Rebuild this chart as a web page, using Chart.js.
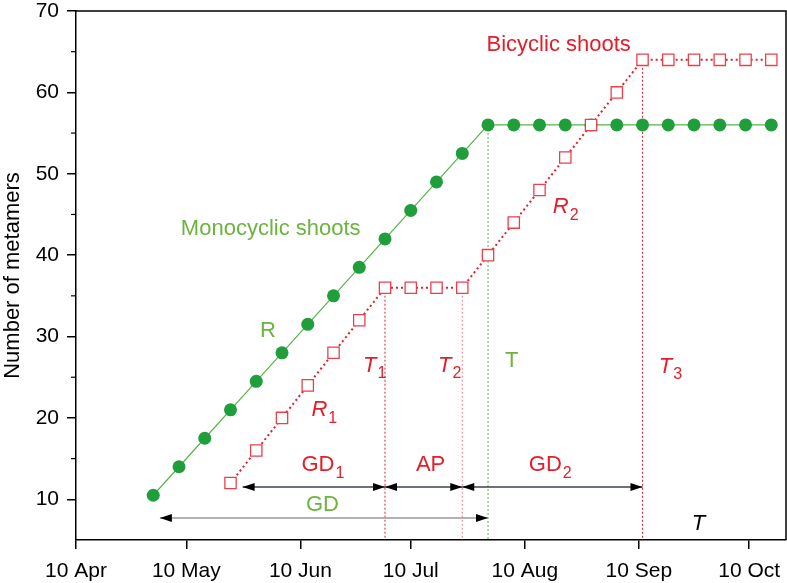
<!DOCTYPE html>
<html>
<head>
<meta charset="utf-8">
<script src="https://cdn.jsdelivr.net/npm/chart.js@4.4.1/dist/chart.umd.min.js"></script>
<style>
  html, body { margin: 0; padding: 0; background: #fff; }
</style>
</head>
<body>
<canvas id="metamer-chart" width="787" height="583"></canvas>
<script>
// x values are days counted from 10 Apr
const tickDays = [0, 30, 61, 91, 122, 153, 183];
const tickLabels = ['10 Apr', '10 May', '10 Jun', '10 Jul', '10 Aug', '10 Sep', '10 Oct'];
const yTicks = [10, 20, 30, 40, 50, 60, 70];

const monoDays = [21, 28, 35, 42, 49, 56, 63, 70, 77, 84, 91, 98, 105, 112,
                  119, 126, 133, 140, 147, 154, 161, 168, 175, 182, 189];
const monoValues = [10.5, 14, 17.5, 21, 24.5, 28, 31.5, 35, 38.5, 42, 45.5, 49, 52.5, 56,
                    56, 56, 56, 56, 56, 56, 56, 56, 56, 56, 56];

const biDays = [42, 49, 56, 63, 70, 77, 84, 91, 98, 105, 112, 119, 126, 133, 140,
                147, 154, 161, 168, 175, 182, 189];
const biValues = [12, 16, 20, 24, 28, 32, 36, 36, 36, 36, 40, 44, 48, 52, 56,
                  60, 64, 64, 64, 64, 64, 64];

// T1, T2, T, T3 and the value each dotted line drops from
const markDays = [84, 105, 112, 154];
const markTops = [36, 36, 56, 64];

// arrow spans [from, to, level]
const gd1Span = [45.3, 84, 11.5];
const apSpan = [84, 105, 11.5];
const gd2Span = [105, 154, 11.5];
const gdSpan = [22.8, 112, 7.7];

const RED = '#e31e2a';
const PINK = '#f07f88';
const GREEN = '#1f9e3b';
const LINE_GREEN = '#55b548';
const TEXT_GREEN = '#6db33f';
const FONT = '"Liberation Sans", Arial, Helvetica, sans-serif';

const notes = [
    { text: 'Monocyclic shoots', x: 28.5, y: 43.25, color: TEXT_GREEN },
    { text: 'Bicyclic shoots', x: 111.6, y: 65.85, color: RED },
    { text: 'R', x: 50, y: 30.65, color: TEXT_GREEN },
    { text: 'R', sub: '1', x: 64, y: 20.95, color: RED, italic: true },
    { text: 'T', sub: '1', x: 78, y: 26.44, color: RED, italic: true },
    { text: 'T', sub: '2', x: 98.4, y: 26.4, color: RED, italic: true },
    { text: 'T', x: 116.6, y: 26.97, color: TEXT_GREEN },
    { text: 'T', sub: '3', x: 158.4, y: 26.3, color: RED, italic: true },
    { text: 'R', sub: '2', x: 129.6, y: 45.9, color: RED, italic: true },
    { text: 'GD', sub: '1', x: 61.3, y: 14.17, color: RED },
    { text: 'AP', x: 92.4, y: 14.17, color: RED },
    { text: 'GD', sub: '2', x: 123.1, y: 14.17, color: RED },
    { text: 'GD', x: 62.5, y: 9.26, color: TEXT_GREEN },
    { text: 'T', x: 167.4, y: 6.99, color: '#000', italic: true }
];

function toPoints(xs, ys) {
    return xs.map((x, i) => ({ x: x, y: ys[i] }));
}

const markColors = [RED, PINK, LINE_GREEN, RED];
const markSets = markDays.map((d, i) => ({
    data: [{ x: d, y: markTops[i] }, { x: d, y: 5 }],
    showLine: true,
    borderColor: markColors[i],
    borderWidth: 1,
    borderDash: [2, 2],
    pointRadius: 0,
    order: 3
}));

function arrowHead(ctx, x, y, dir) {
    ctx.beginPath();
    ctx.moveTo(x, y);
    ctx.lineTo(x - dir * 12, y - 4);
    ctx.lineTo(x - dir * 12, y + 4);
    ctx.closePath();
    ctx.fill();
}

const annotations = {
    id: 'annotations',
    afterDatasetsDraw(chart) {
        const ctx = chart.ctx;
        const xs = chart.scales.x, ys = chart.scales.y;
        const area = chart.chartArea;
        ctx.save();

        // top and right frame
        ctx.strokeStyle = '#000';
        ctx.lineWidth = 1.5;
        ctx.beginPath();
        ctx.moveTo(area.left, area.top);
        ctx.lineTo(area.right, area.top);
        ctx.lineTo(area.right, area.bottom);
        ctx.stroke();

        // minor y ticks
        ctx.lineWidth = 1.2;
        for (let v = 15; v < 70; v += 10) {
            const py = ys.getPixelForValue(v);
            ctx.beginPath();
            ctx.moveTo(area.left - 5, py);
            ctx.lineTo(area.left, py);
            ctx.stroke();
        }

        // duration arrows
        const spans = [
            [gd1Span, '#3d424c'], [apSpan, '#3d424c'], [gd2Span, '#3d424c'], [gdSpan, '#9a9a9a']
        ];
        spans.forEach(([s, col]) => {
            const x0 = xs.getPixelForValue(s[0]);
            const x1 = xs.getPixelForValue(s[1]);
            const py = ys.getPixelForValue(s[2]);
            ctx.strokeStyle = col;
            ctx.lineWidth = 1.5;
            ctx.beginPath();
            ctx.moveTo(x0, py);
            ctx.lineTo(x1, py);
            ctx.stroke();
            ctx.fillStyle = '#000';
            arrowHead(ctx, x0, py, -1);
            arrowHead(ctx, x1, py, 1);
        });

        // text labels
        ctx.textBaseline = 'middle';
        ctx.textAlign = 'left';
        notes.forEach(n => {
            const px = xs.getPixelForValue(n.x);
            const py = ys.getPixelForValue(n.y);
            ctx.fillStyle = n.color;
            ctx.font = (n.italic ? 'italic ' : '') + '22px ' + FONT;
            ctx.fillText(n.text, px, py);
            if (n.sub) {
                const w = ctx.measureText(n.text).width;
                ctx.font = '16px ' + FONT;
                ctx.fillText(n.sub, px + w + 1, py + 8);
            }
        });
        ctx.restore();
    }
};

new Chart(document.getElementById('metamer-chart'), {
    type: 'scatter',
    data: {
        datasets: [
            {
                data: toPoints(biDays, biValues),
                showLine: true,
                borderColor: RED,
                borderWidth: 2,
                borderDash: [2, 3],
                pointStyle: 'rect',
                pointRadius: 8,
                pointBorderWidth: 1.3,
                pointBorderColor: '#e8414c',
                pointBackgroundColor: '#fff',
                order: 1
            },
            {
                data: toPoints(monoDays, monoValues),
                showLine: true,
                borderColor: LINE_GREEN,
                borderWidth: 1.2,
                pointRadius: 6.5,
                pointBorderWidth: 0,
                pointBackgroundColor: GREEN,
                order: 2
            },
            ...markSets
        ]
    },
    options: {
        responsive: false,
        animation: false,
        layout: { autoPadding: false, padding: { top: 11, right: 1, left: 0, bottom: 0 } },
        plugins: {
            legend: { display: false },
            tooltip: { enabled: false }
        },
        scales: {
            x: {
                type: 'linear',
                min: 0,
                max: 193,
                afterBuildTicks: (scale) => {
                    scale.ticks = tickDays.map(v => ({ value: v }));
                },
                afterFit: (scale) => {
                    scale.height = 43;
                    scale.paddingLeft = 0;
                    scale.paddingRight = 0;
                },
                ticks: {
                    color: '#000',
                    font: { family: FONT, size: 21 },
                    padding: 10,
                    maxRotation: 0,
                    autoSkip: false,
                    callback: (v) => tickLabels[tickDays.indexOf(v)]
                },
                grid: { drawOnChartArea: false, drawTicks: true, tickLength: 9, color: '#000', lineWidth: 1.5 },
                border: { display: true, color: '#000', width: 1.5 }
            },
            y: {
                min: 5,
                max: 70,
                afterBuildTicks: (scale) => {
                    scale.ticks = yTicks.map(v => ({ value: v }));
                },
                afterFit: (scale) => {
                    scale.width = 76;
                    scale.paddingTop = 0;
                    scale.paddingBottom = 0;
                },
                ticks: {
                    color: '#000',
                    font: { family: FONT, size: 21 },
                    padding: 8
                },
                grid: { drawOnChartArea: false, drawTicks: true, tickLength: 9, color: '#000', lineWidth: 1.5 },
                border: { display: true, color: '#000', width: 1.5 },
                title: {
                    display: true,
                    text: 'Number of metamers',
                    color: '#000',
                    font: { family: FONT, size: 22 },
                    padding: { top: 0, bottom: 0 }
                }
            }
        }
    },
    plugins: [annotations]
});
</script>
</body>
</html>
